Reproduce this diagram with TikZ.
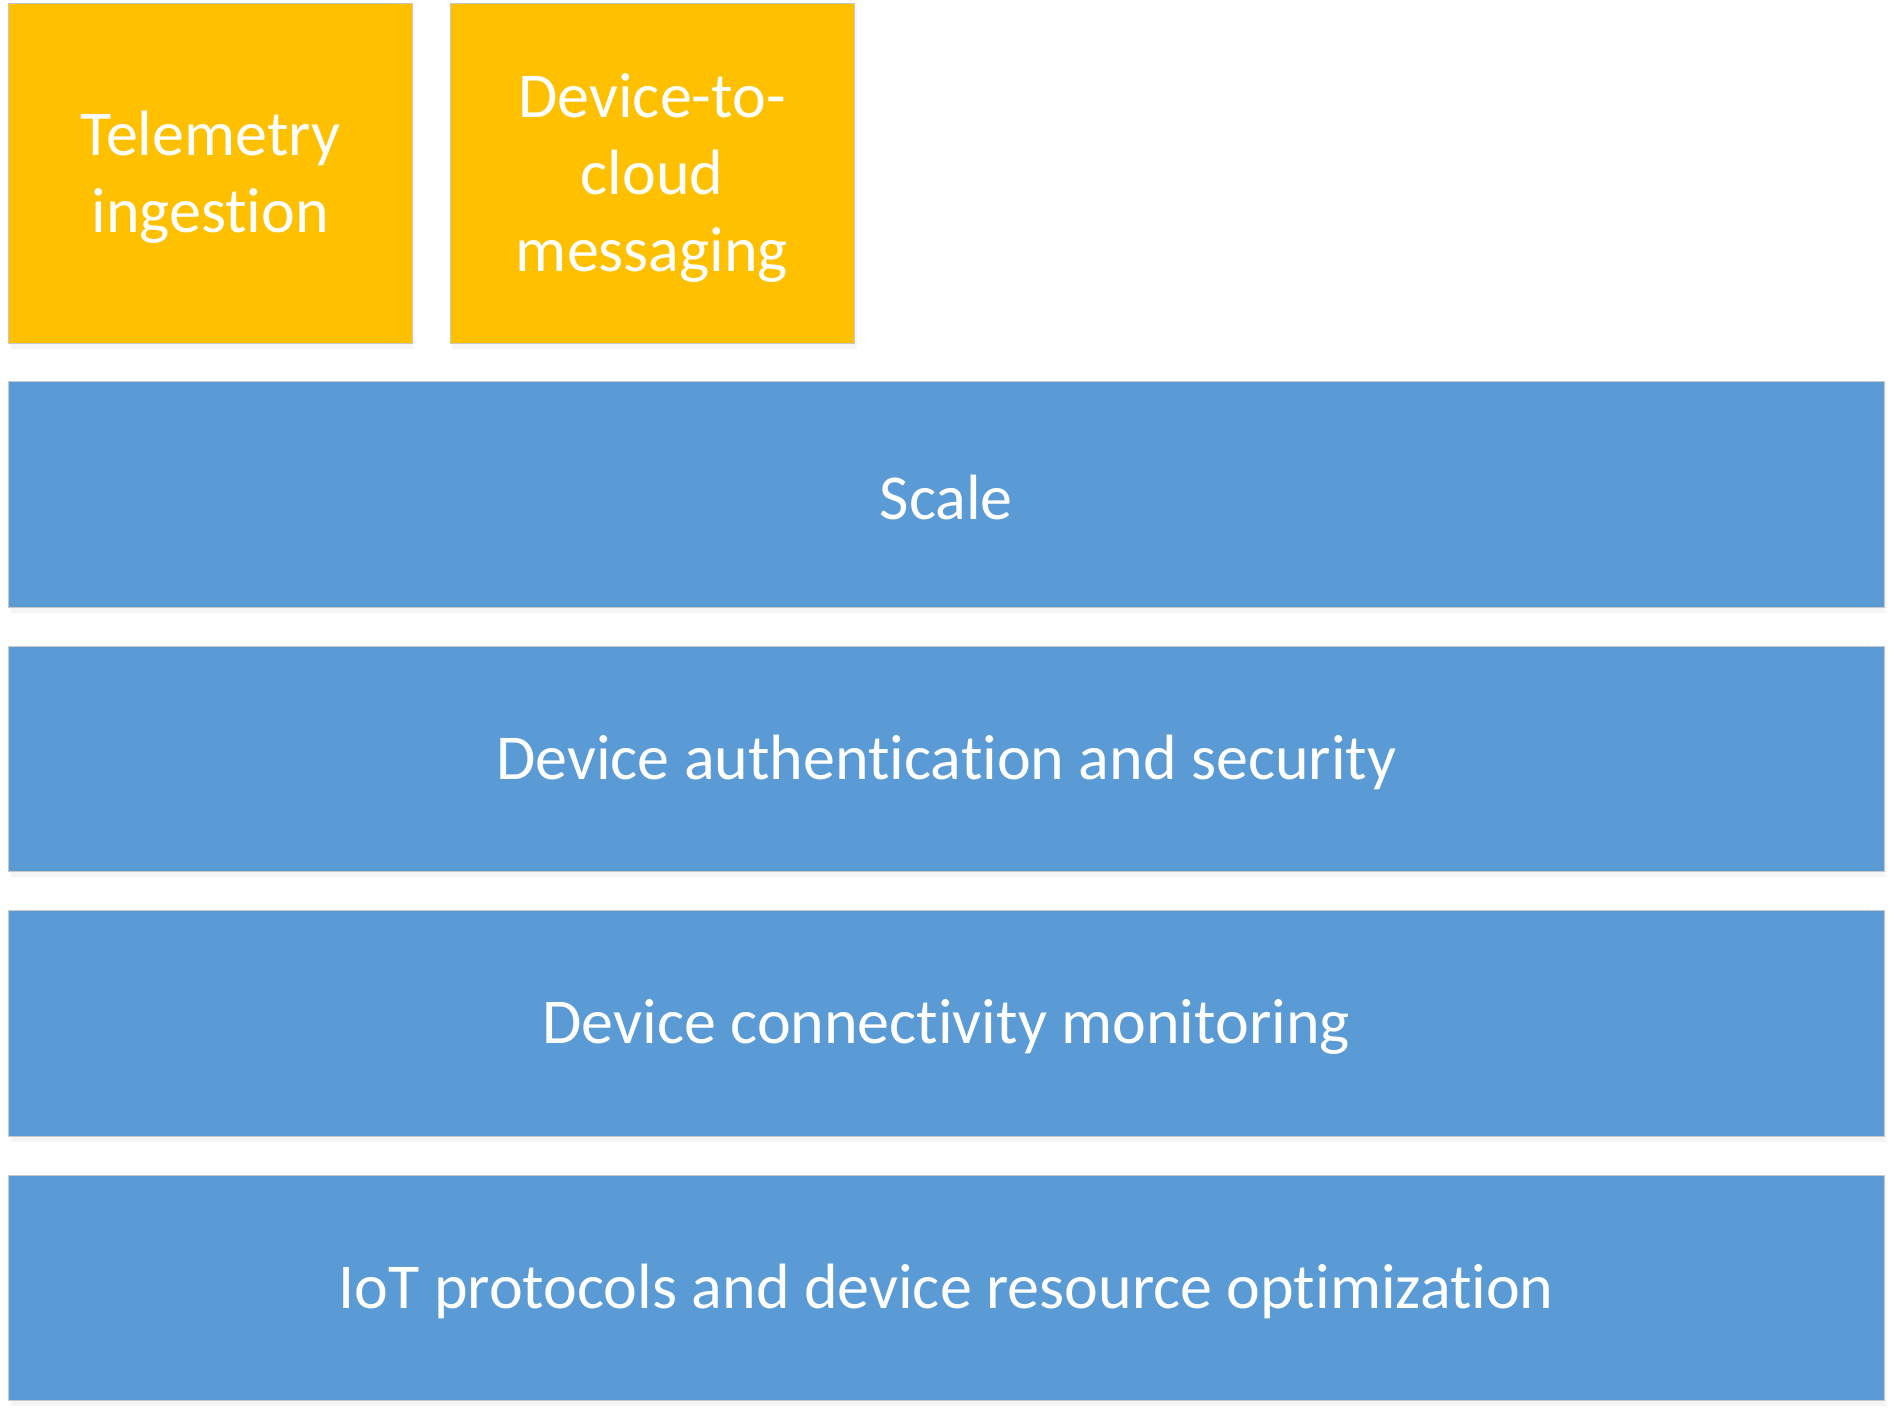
\documentclass[tikz,border=0pt]{standalone}
\usepackage{fontspec}
\setmainfont[Ligatures=NoCommon]{Carlito}
\definecolor{orng}{HTML}{FFC000}
\definecolor{blu}{HTML}{5B9BD5}
\definecolor{edge}{HTML}{C8C8C8}
\begin{document}
\begin{tikzpicture}[x=1pt,y=-1pt,
  boxst/.style={draw=edge,line width=1pt,inner sep=0pt},
  lbl/.style={text=white,align=center,font=\fontsize{64}{77}\selectfont}]
\useasboundingbox (0,0) rectangle (1895,1415);
\fill[white] (0,0) rectangle (1895,1415);
% soft shadows
\foreach \a/\b/\c/\d in {8.5/3.5/412/343, 450/3.5/854/343, 8.5/381/1884/607, 8.5/646/1884/871, 8.5/910/1884/1136, 8.5/1175/1884/1400}{
  \fill[black!4] (\a+2,\d) rectangle (\c+3,\d+6);
  \fill[black!3] (\c,\b+3) rectangle (\c+3,\d+6);
}
\path[boxst,fill=orng] (8.5,3.5) rectangle (412,343);
\node[lbl] (tel) at (210.25,177.5) {Telemetry\\ingestion};
\path[boxst,fill=orng] (450,3.5) rectangle (854,343);
\node[lbl] (d2c) at (652,177.5) {Device-to-\\cloud\\messaging};
\path[boxst,fill=blu] (8.5,381) rectangle (1884,607);
\node[lbl] (scale) at (946.25,498) {Scale};
\path[boxst,fill=blu] (8.5,646) rectangle (1884,871);
\node[lbl] (auth) at (946.25,762.5) {Device authentication and security};
\path[boxst,fill=blu] (8.5,910) rectangle (1884,1136);
\node[lbl] (conn) at (946.25,1027) {Device connectivity monitoring};
\path[boxst,fill=blu] (8.5,1175) rectangle (1884,1400);
\node[lbl] (iot) at (946.25,1291.5) {IoT protocols and device resource optimization};
\end{tikzpicture}
\end{document}
